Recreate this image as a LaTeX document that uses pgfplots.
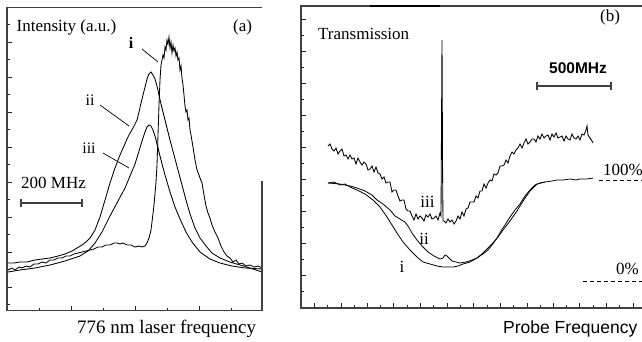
\documentclass[border=0pt]{standalone}
\usepackage{pgfplots}
\pgfplotsset{compat=1.18}
\usepackage{fontspec}
\setmainfont{Liberation Serif}
\newfontfamily\arial{Liberation Sans}
\begin{document}
\begin{tikzpicture}[x=1pt,y=-1pt]
\useasboundingbox (0,0) rectangle (642,341);
\pgfplotsset{myax/.style={scale only axis, axis line style={draw=none}, tick align=inside,
  xtick pos=left, ytick pos=left, xticklabels={}, yticklabels={},
  major tick length=5pt, minor tick length=3pt,
  every tick/.style={black!85, line width=0.6pt}, y dir=reverse, clip=false}}
% ---------------- panel (a) ----------------
\begin{axis}[myax, at={(7,310.5)}, anchor=south west, width=255pt, height=303pt,
  xmin=7, xmax=262, ymin=7.5, ymax=310.5,
  xtick={71,135,199}, minor xtick={39,103,167,231},
  ytick={42,77,112,147,182,217,252,287},
  minor ytick={24.5,59.5,94.5,129.5,164.5,199.5,234.5,269.5,304.5}]
% curve i
\addplot[black, line width=0.85pt] coordinates {
(8,270)(12,268)(15,270)(19,267)(22,268)(26,266)(30,267)(34,264)(38,264)(42,262)(46,263)(50,260)(54,260)(58,258)(62,258)(66,256)(70,256)(74,254)(78,253)(82,252)(86,251)(90,250)(94,249)(98,247)(102,247)(106,245)(110,245)(114,243)(117,243)(120,244)(123,243)(127,245)(131,245)(135,247)(139,246)(142,247)(145,246)
(147,243)(149,238)(151,230)(152,222)(154,205)(156,182)(157,165)(158,135)(159,105)(160,80)(161,65)(162,60)(163,55)(164,58)(165,47)(166,50)(167,40)(168,44)(169,37)(170,48)(171,42)(172,53)(173,45)(174,51)(175,48)(176,56)(177,52)(178,60)(179,58)(180,70)(181,66)(182,78)(183,85)(184,95)(185,106)(186,112)(187,110)(188,120)(189,118)(190,130)(191,135)(193,147)(195,160)(197,170)(199,175)(200,178)(202,183)(204,195)(206,206)(208,213)(210,218)(212,225)(215,232)(218,238)(221,246)(224,252)(227,256)(230,258)(233,262)(236,260)(239,264)(242,263)(246,266)(250,265)(254,267)(258,266)(262,268)};
% curve ii
\addplot[black, line width=0.85pt] coordinates {
(8,263)(14,263)(20,262)(27,262)(35,260)(42,259)(50,258)(58,256)(65,254)(72,251)(77,248)(82,245)(86,242)(90,238)(95,230)(100,217)(105,200)(110,183)(115,168)(120,155)(124,146)(127,139)(130,133)(133,128)(135,124)(137,120)(139,112)(141,103)(143,95)(145,87)(147,79)(149,74)(151,72)(153,75)(155,79)(157,86)(159,95)(161,104)(163,112)(166,124)(170,140)(174,155)(178,170)(182,185)(186,200)(190,214)(195,228)(200,238)(206,246)(212,253)(220,258)(230,262)(240,265)(250,268)(262,272)};
% curve iii
\addplot[black, line width=0.85pt] coordinates {
(8,272)(20,270)(35,268)(50,265)(65,261)(80,256)(88,251)(95,243)(102,232)(110,216)(118,201)(125,188)(130,176)(135,164)(139,151)(142,141)(145,132)(147,127)(149,125)(151,126)(153,130)(155,136)(158,148)(161,160)(165,175)(170,192)(175,207)(180,219)(186,232)(192,242)(200,252)(210,259)(220,263)(232,266)(245,268)(262,269)};
\end{axis}
\draw[line width=1.2pt, black!75] (262,181) -- (262,310.5) -- (7,310.5) -- (7,7.5) -- (262,7.5);
% labels (a)
\node[anchor=base west, inner sep=0, font=\fontsize{17}{20}\selectfont] at (16.5,31.5) {Intensity (a.u.)};
\node[anchor=base west, inner sep=0, font=\fontsize{17}{20}\selectfont] at (233,31) {(a)};
\node[anchor=base, inner sep=0, font=\fontsize{16}{20}\selectfont\bfseries] at (131,48) {i};
\node[anchor=base, inner sep=0, font=\fontsize{16}{20}\selectfont] at (90,105) {ii};
\node[anchor=base, inner sep=0, font=\fontsize{16}{20}\selectfont] at (89,153) {iii};
\draw[line width=0.7pt] (142,49) -- (158,62);
\draw[line width=0.7pt] (100,105) -- (129,126);
\draw[line width=0.7pt] (103,153) -- (129,168);
\node[anchor=base west, inner sep=0, font=\fontsize{17}{20}\selectfont] at (21,188) {200 MHz};
\draw[line width=1.1pt, black!75] (21,203) -- (82,203) (21,199) -- (21,207) (82,199) -- (82,207);
\node[anchor=base west, inner sep=0, font=\fontsize{19}{22}\selectfont] at (77,333) {776 nm laser frequency};
% ---------------- panel (b) ----------------
\begin{axis}[myax, at={(301,308)}, anchor=south west, width=341pt, height=302pt,
  xmin=301, xmax=642, ymin=6, ymax=308,
  xtick={314,341,367,393,420,447,473,500,527,553,579,606,633},
  minor xtick={327,354,380,407,433,460,487,513,540,566,593,619},
  ytick={19,51,83,115,147,179,211,243,275},
  minor ytick={35,67,99,131,163,195,227,259,291}]
% curve iii (noisy)
\addplot[black, line width=0.85pt] coordinates {
(328,146)(330,144)(332,149)(334,151)(336,148)(338,154)(340,151)(342,149)(344,156)(346,155)(348,159)(350,155)(352,159)(354,158)(356,164)(358,158)(360,162)(362,165)(364,162)(366,164)(368,170)(370,169)(372,166)(374,172)(376,167)(378,173)(380,174)(382,179)(384,177)(386,183)(388,182)(390,182)(392,192)(394,190)(396,190)(398,196)(400,201)(402,200)(404,200)(406,209)(408,211)(410,211)(412,216)(414,220)(416,214)(418,219)(420,216)(422,218)(424,221)(426,215)(428,217)(430,214)(432,219)(434,218)(436,216)(438,220)(440,213)(441,216)(442,40)(442.6,175)(443,221)
(444,221)(446,223)(448,219)(450,222)(452,220)(454,224)(456,221)(458,216)(460,219)(462,212)(464,216)(466,209)(468,208)(470,202)(472,202)(474,202)(476,196)(478,198)(480,191)(482,191)(484,184)(486,188)(488,183)(490,180)(492,181)(494,174)(496,175)(498,173)(500,166)(502,166)(504,165)(506,160)(508,163)(510,156)(512,152)(514,154)(516,150)(518,148)(520,144)(522,148)(524,143)(526,139)(528,144)(530,142)(532,139)(534,139)(536,142)(538,136)(540,139)(542,134)(544,138)(546,136)(548,135)(550,140)(552,134)(554,137)(556,133)(558,138)(560,137)(562,136)(564,141)(566,136)(568,139)(570,140)(572,134)(574,138)(576,139)(578,136)(580,140)(582,134)(584,135)(586,130)(587,126)(588,135)(590,138)(592,141)(593,143)};
% curve i
\addplot[black, line width=0.8pt] coordinates {
(328,183)(334,182)(340,185)(345,184)(350,187)(357,190)(365,194)(373,200)(380,207)(387,217)(392,225)(397,233)(403,242)(410,250)(417,257)(423,262)(430,264)(437,266)(443,267)(447,267)(453,267)(458,266)(463,264)(470,262)(477,258)(483,253)(488,248)(493,243)(498,237)(503,230)(507,225)(512,218)(517,211)(520,206)(525,198)(530,191)(537,184)(545,182)(552,181)(557,180)(563,180)(570,179)(576,180)(580,179)(587,179)(593,178)};
% curve ii
\addplot[black, line width=0.8pt] coordinates {
(328,183)(340,184)(350,186)(357,188)(365,191)(372,195)(377,200)(383,204)(390,210)(395,216)(400,219)(405,222)(408,226)(412,233)(417,240)(422,246)(428,252)(434,256)(440,259)(443,258)(445,255)(447,256)(449,258)(452,261)(456,262)(460,263)(466,262)(472,260)(477,258)(483,254)(488,250)(492,245)(497,238)(501,231)(505,225)(510,217)(515,210)(520,204)(525,196)(530,190)(535,185)(540,183)(545,182)};
\end{axis}
\draw[line width=1.2pt, black!75] (642,6) -- (301,6) -- (301,308) -- (642,308);
\draw[line width=2.4pt, black] (370,6) -- (440,6);
% labels (b)
\node[anchor=base west, inner sep=0, font=\fontsize{17}{20}\selectfont] at (318,39) {Transmission};
\node[anchor=base west, inner sep=0, font=\fontsize{17}{20}\selectfont] at (600,21) {(b)};
\node[anchor=base west, inner sep=0, font=\arial\bfseries\fontsize{15.5}{18}\selectfont] at (549,73) {500MHz};
\draw[line width=1.1pt, black!75] (537,86) -- (611,86) (537,82) -- (537,90) (611,82) -- (611,90);
\node[anchor=base west, inner sep=0, font=\fontsize{17}{20}\selectfont] at (603,175) {100\%};
\draw[line width=0.8pt, dash pattern=on 4pt off 3pt] (599,180) -- (642,180);
\node[anchor=base west, inner sep=0, font=\fontsize{17}{20}\selectfont] at (616,274) {0\%};
\draw[line width=0.8pt, dash pattern=on 4pt off 3pt] (583,281) -- (642,281);
\node[anchor=base, inner sep=0, font=\fontsize{17}{20}\selectfont] at (427.5,207) {iii};
\node[anchor=base, inner sep=0, font=\fontsize{17}{20}\selectfont] at (424,244) {ii};
\node[anchor=base, inner sep=0, font=\fontsize{17}{20}\selectfont] at (402,272) {i};
\node[anchor=base west, inner sep=0, font=\arial\fontsize{17.5}{20}\selectfont] at (503,333) {Probe Frequency};
\end{tikzpicture}
\end{document}
